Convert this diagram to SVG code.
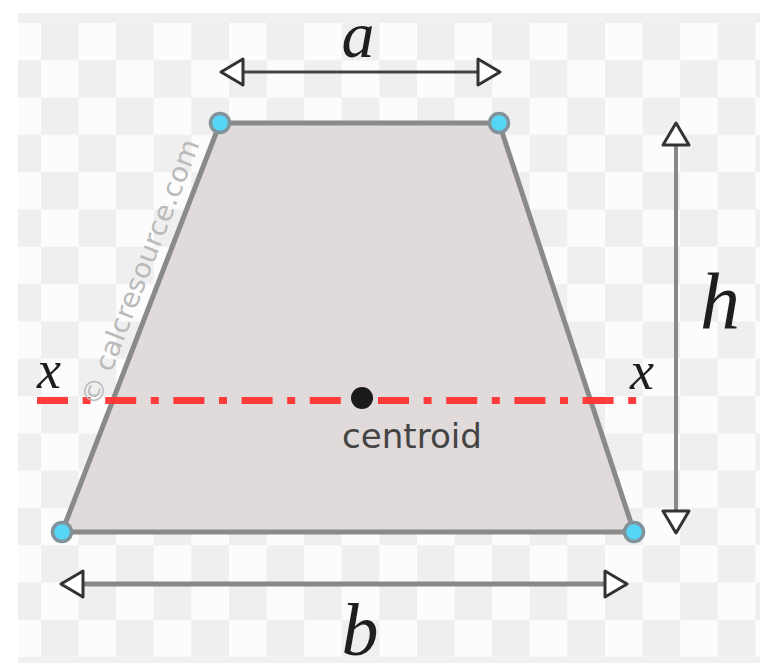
<svg xmlns="http://www.w3.org/2000/svg" width="760" height="671" viewBox="0 0 760 671">
  <style>
    .lbl { font-family: "Liberation Serif", "Times New Roman", serif; font-style: italic; fill: #1e1e1e; text-anchor: middle; }
    .dim { fill: none; }
    .vtx { fill: #55d6f7; stroke: #80939a; stroke-width: 3.5; }
  </style>
  <defs>
    <pattern id="checker" patternUnits="userSpaceOnUse" x="3.4" y="23" width="75.2" height="74.6">
      <rect x="0" y="0" width="75.2" height="74.6" fill="#fcfcfc"/>
      <rect x="37.6" y="0" width="37.6" height="37.3" fill="#efefef"/>
      <rect x="0" y="37.3" width="37.6" height="37.3" fill="#efefef"/>
    </pattern>
    <marker id="arr" viewBox="0 0 26 30" markerWidth="26" markerHeight="30" refX="24" refY="15" orient="auto-start-reverse" markerUnits="userSpaceOnUse">
      <path d="M2,2 L24,15 L2,28 Z" fill="#ffffff" stroke="#333333" stroke-width="3" stroke-linejoin="round"/>
    </marker>
  </defs>

  <!-- background -->
  <rect x="0" y="0" width="760" height="671" fill="#ffffff"/>
  <rect x="18" y="13" width="742" height="10" fill="#f0f0f0"/>
  <rect x="18" y="23" width="742" height="634" fill="url(#checker)"/>
  <rect x="18" y="657" width="742" height="6" fill="#f0f0f0"/>

  <!-- trapezoid -->
  <g id="trapezoid">
    <polygon points="220,123 499,123 634,532 62,532" fill="#e1dada" stroke="#8a8a8a" stroke-width="5" stroke-linejoin="round"/>
  </g>

  <!-- connectors: dimension lines and axis -->
  <g id="connectors">
    <line id="dim-a" class="dim" x1="221" y1="72" x2="500" y2="72" stroke="#444444" stroke-width="3" marker-start="url(#arr)" marker-end="url(#arr)"/>
    <line id="dim-h" class="dim" x1="676" y1="123" x2="676" y2="533" stroke="#888888" stroke-width="4" marker-start="url(#arr)" marker-end="url(#arr)"/>
    <line id="dim-b" class="dim" x1="61" y1="584" x2="627" y2="584" stroke="#888888" stroke-width="5" marker-start="url(#arr)" marker-end="url(#arr)"/>
    <line id="axis-x" x1="37" y1="400.5" x2="639" y2="400.5" stroke="#ff3333" stroke-width="7" stroke-dasharray="31 14.6 8 14.6" opacity="0.95"/>
  </g>

  <!-- watermark -->
  <g id="watermark">
    <text transform="translate(98,407.6) rotate(-68.9)" x="0" y="0" font-family="DejaVu Sans, Verdana, sans-serif" font-size="27" fill="#bababa" textLength="283" lengthAdjust="spacingAndGlyphs">© calcresource.com</text>
  </g>

  <!-- vertices -->
  <g id="vertex-tl"><circle class="vtx" cx="220" cy="123" r="9.5"/></g>
  <g id="vertex-tr"><circle class="vtx" cx="499" cy="123" r="9.5"/></g>
  <g id="vertex-bl"><circle class="vtx" cx="62" cy="532" r="9.5"/></g>
  <g id="vertex-br"><circle class="vtx" cx="634" cy="532" r="9.5"/></g>

  <!-- centroid -->
  <g id="centroid">
    <circle cx="362" cy="398" r="11" fill="#1a1a1a"/>
    <text x="342" y="448" font-family="DejaVu Sans, Verdana, sans-serif" font-size="34" fill="#444444" textLength="140" lengthAdjust="spacingAndGlyphs">centroid</text>
  </g>

  <!-- labels -->
  <g id="label-a"><text class="lbl" x="358" y="57" font-size="66">a</text></g>
  <g id="label-b"><text class="lbl" x="360" y="655" font-size="74">b</text></g>
  <g id="label-h"><text class="lbl" x="720" y="328" font-size="80">h</text></g>
  <g id="label-x-left"><text class="lbl" x="49" y="388" font-size="54">x</text></g>
  <g id="label-x-right"><text class="lbl" x="642" y="389" font-size="54">x</text></g>
</svg>
